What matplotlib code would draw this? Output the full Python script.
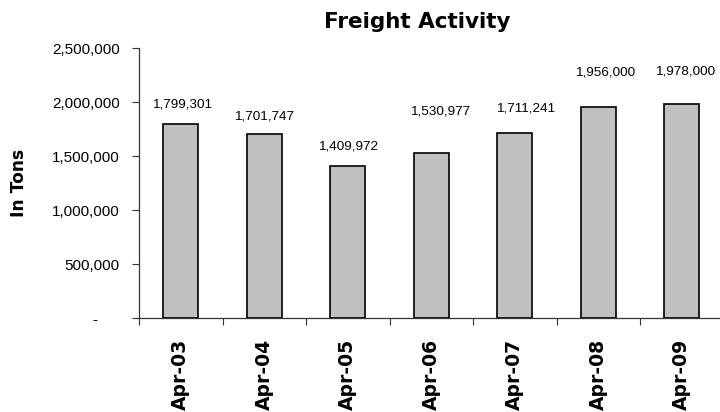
import matplotlib
matplotlib.use("Agg")
import matplotlib.pyplot as plt
from matplotlib.ticker import FuncFormatter, FixedLocator
import numpy as np

# Annual freight tonnage
periods = ["Apr-03", "Apr-04", "Apr-05", "Apr-06", "Apr-07", "Apr-08", "Apr-09"]
tons = [1799301, 1701747, 1409972, 1530977, 1711241, 1956000, 1978000]
value_texts = ["1,799,301", "1,701,747", "1,409,972", "1,530,977", "1,711,241", "1,956,000", "1,978,000"]
y_ticks = [0, 500000, 1000000, 1500000, 2000000, 2500000]

# Hand-placed label offsets (pixels) relative to each bar's top centre
label_dx = [1, 0, 0, 9, 11, 7, 3]
label_dy = [19, 18, 19, 41, 25, 34, 33]

W, H = 720, 412
fig = plt.figure(figsize=(W / 100, H / 100), dpi=100)
fig.patch.set_facecolor("white")

left_px, right_px, top_px, base_px = 139, 723.5, 48, 318
ax = fig.add_axes([left_px / W, 1 - base_px / H,
                   (right_px - left_px) / W, (base_px - top_px) / H])
ax.set_facecolor("white")

x = np.arange(len(periods))
ax.bar(x, tons, width=0.42, color="#C0C0C0", edgecolor="black", linewidth=1.2, zorder=3)

ax.set_xlim(-0.5, len(periods) - 0.5)
ax.set_ylim(0, 2500000)

# y axis
ax.yaxis.set_major_locator(FixedLocator(y_ticks))
ax.yaxis.set_major_formatter(FuncFormatter(
    lambda v, p: "-     " if v == 0 else f"{int(v):,}"))
ax.tick_params(axis="y", which="major", direction="out", length=5, width=0.8,
               color="#333333", pad=9, labelsize=11)
for lab in ax.get_yticklabels():
    lab.set_fontfamily("Liberation Sans")

# x axis: tick marks between categories, labels at category centres
ax.xaxis.set_major_locator(FixedLocator(np.arange(len(periods) + 1) - 0.5))
ax.xaxis.set_major_formatter(FuncFormatter(lambda v, p: ""))
ax.xaxis.set_minor_locator(FixedLocator(x))
ax.set_xticks(x, minor=True)
ax.set_xticklabels(periods, minor=True, rotation=90, fontweight="bold",
                   fontsize=13.5, fontfamily="DejaVu Sans")
ax.tick_params(axis="x", which="major", direction="out", length=5, width=0.8, color="#333333")
ax.tick_params(axis="x", which="minor", length=0, pad=15)

for side in ("top", "right"):
    ax.spines[side].set_visible(False)
for side in ("left", "bottom"):
    ax.spines[side].set_color("#333333")
    ax.spines[side].set_linewidth(0.9)

# value labels
for xi, v, txt, dx, dy in zip(x, tons, value_texts, label_dx, label_dy):
    ax.annotate(txt, xy=(xi, v), xytext=(dx * 0.72, dy * 0.72),
                textcoords="offset points", ha="center", va="center",
                fontsize=9.7, fontfamily="Liberation Sans", color="black")

fig.text(417 / W, 1 - 22 / H, "Freight Activity", ha="center", va="center",
         fontsize=15.5, fontweight="bold", fontfamily="DejaVu Sans")
fig.text(19.5 / W, 1 - 183 / H, "In Tons", ha="center", va="center", rotation=90,
         fontsize=12.3, fontweight="bold", fontfamily="DejaVu Sans")

fig.savefig("out.png", dpi=100, facecolor="white")
